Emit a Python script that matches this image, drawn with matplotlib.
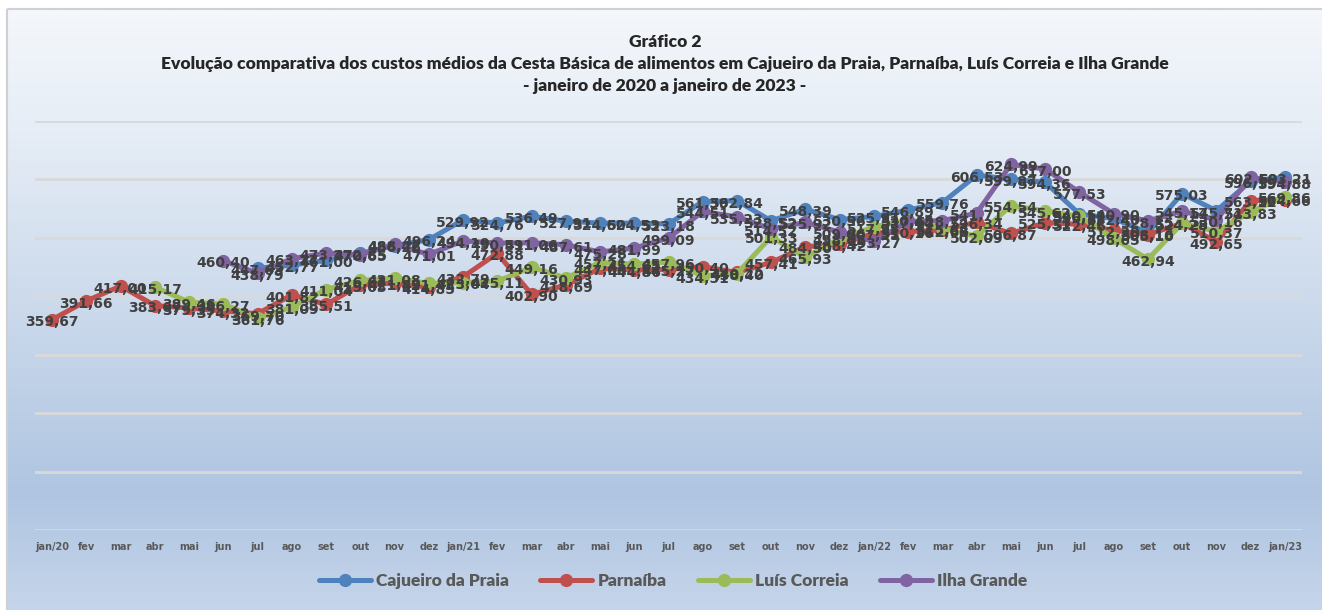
import numpy as np
import matplotlib.pyplot as plt
from matplotlib.colors import LinearSegmentedColormap
from matplotlib.patches import Rectangle

# Month labels (jan/2020 to jan/2023)
months = ['jan/20', 'fev', 'mar', 'abr', 'mai', 'jun', 'jul', 'ago', 'set', 'out', 'nov', 'dez',
          'jan/21', 'fev', 'mar', 'abr', 'mai', 'jun', 'jul', 'ago', 'set', 'out', 'nov', 'dez',
          'jan/22', 'fev', 'mar', 'abr', 'mai', 'jun', 'jul', 'ago', 'set', 'out', 'nov', 'dez',
          'jan/23']

N = None
cajueiro = [N, N, N, N, N, N, 447.63, 452.77, 461.00, 472.85, 486.26, 496.24,
            529.92, 524.76, 536.49, 527.91, 524.60, 524.53, 523.18, 561.39, 562.84, 528.52, 548.39, 530.56,
            535.91, 546.89, 559.76, 606.53, 599.87, 594.36, 540.12, 532.40, 508.16, 575.03, 545.71, 596.19,
            603.21]
parnaiba = [359.67, 391.66, 417.00, 383.67, 379.39, 374.32, 369.70, 401.82, 385.51, 419.03, 421.89, 414.85,
            432.79, 472.88, 402.90, 418.69, 447.06, 444.86, 445.27, 450.40, 440.22, 457.41, 484.50, 488.42,
            507.35, 510.16, 512.68, 526.34, 506.87, 525.31, 522.46, 512.30, 505.10, 524.25, 492.65, 563.12,
            564.66]
luis_correia = [N, N, N, 415.17, 389.46, 386.27, 361.76, 381.09, 411.04, 426.63, 431.08, 421.43,
                423.04, 425.11, 449.16, 430.93, 457.21, 454.65, 457.96, 434.51, 438.40, 501.33, 465.93, 498.62,
                517.93, 530.45, 515.64, 502.09, 554.54, 545.62, 536.12, 498.65, 462.94, 524.28, 510.37, 543.83,
                569.86]
ilha_grande = [N, N, N, N, N, 460.40, 438.79, 463.77, 473.27, 470.65, 488.42, 471.01,
               494.19, 490.51, 491.06, 487.61, 475.28, 481.99, 499.09, 544.51, 535.23, 514.52, 525.92, 509.06,
               493.27, 527.44, 528.74, 541.71, 624.99, 617.00, 577.53, 540.90, 528.35, 545.17, 530.16, 602.59,
               594.88]

series = [('Cajueiro da Praia', cajueiro, '#4f81bd'),
          ('Parnaíba', parnaiba, '#c0504d'),
          ('Luís Correia', luis_correia, '#9bbb59'),
          ('Ilha Grande', ilha_grande, '#8064a2')]

W, H = 1322, 610
fig = plt.figure(figsize=(W / 100, H / 100), dpi=100)
fig.patch.set_facecolor('white')

# background gradient of the chart area
bg = fig.add_axes([0, 0, 1, 1], zorder=-10)
bg.set_axis_off()
cmap = LinearSegmentedColormap.from_list('bgc', [(0.0, '#f4f7fb'), (0.20, '#e6edf6'),
                                                (0.80, '#afc5e1'), (1.0, '#c6d5ea')])
grad = np.linspace(0, 1, 400).reshape(-1, 1)
bg.imshow(grad, cmap=cmap, aspect='auto', extent=[7, W + 5, H + 5, 9])
bg.add_patch(Rectangle((7, 9), W, H, fill=False, edgecolor='#d0d0d0', lw=1.5))
bg.set_xlim(0, W)
bg.set_ylim(H, 0)

ax = fig.add_axes([35 / W, (H - 530) / H, 1267 / W, (530 - 120.5) / H])
ax.patch.set_alpha(0)
x = np.arange(len(months))

for name, vals, col in series:
    y = np.array([np.nan if v is None else v for v in vals], dtype=float)
    ax.plot(x, y, color=col, lw=3.6, marker='o', ms=8.5, mec=col, mfc=col,
            label=name, solid_capstyle='round', zorder=3)
for name, vals, col in series:
    for xi, v in zip(x, vals):
        if v is None:
            continue
        ax.annotate(f'{v:.2f}'.replace('.', ','), (xi, v), xytext=(0, -2),
                    textcoords='offset points', ha='center', va='center',
                    fontsize=10, fontweight='bold', color='#404040', zorder=5)

ax.set_xlim(-0.5, len(months) - 0.5)
ax.set_ylim(0, 700)
ax.set_yticks(np.arange(0, 701, 100))
ax.set_yticklabels([])
ax.tick_params(axis='y', length=0)
ax.grid(axis='y', color='#d9d9d9', lw=2)
ax.set_axisbelow(True)
ax.set_xticks(x)
ax.set_xticklabels(months, fontsize=7, fontweight='bold', color='#595959', family='DejaVu Sans')
ax.tick_params(axis='x', length=0, pad=9)
for s in ax.spines.values():
    s.set_visible(False)

title_kw = dict(ha='center', va='center', fontsize=12.6, fontweight='heavy',
                color='#262626', family='Lato')
fig.text(665 / W, 1 - 42 / H, 'Gráfico 2', **title_kw)
fig.text(665 / W, 1 - 64 / H,
         'Evolução comparativa dos custos médios da Cesta Básica de alimentos em '
         'Cajueiro da Praia, Parnaíba, Luís Correia e Ilha Grande', **title_kw)
fig.text(665 / W, 1 - 86 / H, '- janeiro de 2020 a janeiro de 2023 -', **title_kw)

leg = fig.legend(loc='center', bbox_to_anchor=(673 / W, 1 - 581 / H), ncol=4, frameon=False,
                 prop={'family': 'Lato', 'size': 12.5}, labelcolor='#595959',
                 handlelength=3.0, columnspacing=1.8, handletextpad=0.3)
for t in leg.get_texts():
    t.set_fontweight('heavy')

fig.savefig('out.png', dpi=100)
